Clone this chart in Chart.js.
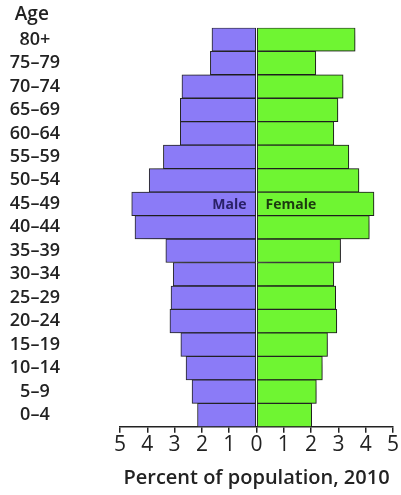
<!DOCTYPE html>
<html>
<head>
<meta charset="utf-8">
<script src="https://cdn.jsdelivr.net/npm/chart.js@4"></script>
<style>
  html, body { margin: 0; padding: 0; background: #fff; }
  #wrap { width: 401px; height: 495px; position: relative; }
</style>
</head>
<body>
<div id="wrap"><canvas id="pyramid"></canvas></div>
<script>
// age groups, top to bottom
const ageGroups = ["80+", "75–79", "70–74", "65–69", "60–64", "55–59", "50–54", "45–49",
  "40–44", "35–39", "30–34", "25–29", "20–24", "15–19", "10–14", "5–9", "0–4"];
// percent of population, 2010
const malePct = [1.63, 1.69, 2.73, 2.79, 2.79, 3.41, 3.93, 4.57, 4.45, 3.32, 3.05, 3.13, 3.17, 2.77, 2.58, 2.36, 2.16];
const femalePct = [3.61, 2.17, 3.17, 2.98, 2.83, 3.38, 3.75, 4.30, 4.13, 3.08, 2.83, 2.90, 2.94, 2.60, 2.41, 2.19, 2.02];
const xTicks = [-5, -4, -3, -2, -1, 0, 1, 2, 3, 4, 5];
const labelRow = "45–49"; // where the Male / Female words sit

const dark = "#222";

//soft drop shadow behind the bars
const shadowPlugin = {
  id: "barShadow",
  beforeDatasetDraw(chart) {
    const ctx = chart.ctx;
    ctx.save();
    ctx.shadowColor = "rgba(0,0,0,0.55)";
    ctx.shadowBlur = 18;
    ctx.shadowOffsetX = 8;
    ctx.shadowOffsetY = 3;
  },
  afterDatasetDraw(chart) {
    chart.ctx.restore();
  }
};

//writes Male / Female inside the widest row
const sexLabels = {
  id: "sexLabels",
  afterDatasetsDraw(chart) {
    const ctx = chart.ctx;
    const x0 = chart.scales.x.getPixelForValue(0);
    const y = chart.scales.y.getPixelForValue(ageGroups.indexOf(labelRow));
    ctx.save();
    ctx.font = "bold 14px 'Open Sans'";
    ctx.textBaseline = "middle";
    ctx.textAlign = "right";
    ctx.fillStyle = "#2a2168";
    ctx.fillText("Male", x0 - 10, y + 1);
    ctx.textAlign = "left";
    ctx.fillStyle = "#1c3a10";
    ctx.fillText("Female", x0 + 9, y + 1);
    ctx.restore();
  }
};

new Chart(document.getElementById("pyramid"), {
  type: "bar",
  data: {
    labels: ageGroups,
    datasets: [
      {
        label: "Female",
        data: femalePct,
        backgroundColor: "#6ff532",
        borderColor: "#2a2a2a",
        borderWidth: 1,
        borderSkipped: false,
        barPercentage: 1,
        categoryPercentage: 1
      },
      {
        label: "Male",
        data: malePct.map(v => -v),
        backgroundColor: "#8b7bf7",
        borderColor: "#2a2a2a",
        borderWidth: 1,
        borderSkipped: false,
        barPercentage: 1,
        categoryPercentage: 1
      }
    ]
  },
  options: {
    indexAxis: "y",
    responsive: true,
    maintainAspectRatio: false,
    animation: false,
    layout: { padding: { left: 0, right: 8, top: 3, bottom: 5 } },
    plugins: {
      legend: { display: false },
      tooltip: { enabled: false },
      title: {
        display: true,
        text: "   Age", // leading spaces nudge it over the age column
        align: "start",
        color: dark,
        font: { family: "'Open Sans'", size: 19, weight: "600" },
        padding: { top: 0, bottom: 2 }
      }
    },
    scales: {
      x: {
        type: "linear",
        stacked: true,
        min: -5,
        max: 5,
        afterBuildTicks(scale) {
          scale.ticks = xTicks.map(v => ({ value: v }));
        },
        ticks: {
          color: dark,
          font: { family: "'Open Sans'", size: 21, weight: "500" },
          padding: 0,
          maxRotation: 0,
          callback: v => Math.abs(v)
        },
        grid: {
          drawOnChartArea: false,
          drawTicks: true,
          tickLength: 6,
          color: dark,
          lineWidth: 1.5
        },
        border: { display: true, color: dark, width: 1.5 },
        title: {
          display: true,
          text: "Percent of population, 2010",
          color: dark,
          font: { family: "'Open Sans'", size: 20, weight: "600" },
          padding: { top: 8, bottom: 0 }
        }
      },
      y: {
        stacked: true,
        afterFit(scale) {
          scale.width = 120;
        },
        ticks: {
          color: dark,
          crossAlign: "center",
          autoSkip: false,
          padding: 0,
          font: { family: "'Open Sans'", size: 18, weight: "600" }
        },
        // invisible tick marks only push the labels left
        grid: {
          display: true,
          drawOnChartArea: false,
          drawTicks: true,
          tickLength: 60,
          color: "rgba(0,0,0,0)"
        },
        border: { display: false }
      }
    }
  },
  plugins: [shadowPlugin, sexLabels]
});
</script>
</body>
</html>
